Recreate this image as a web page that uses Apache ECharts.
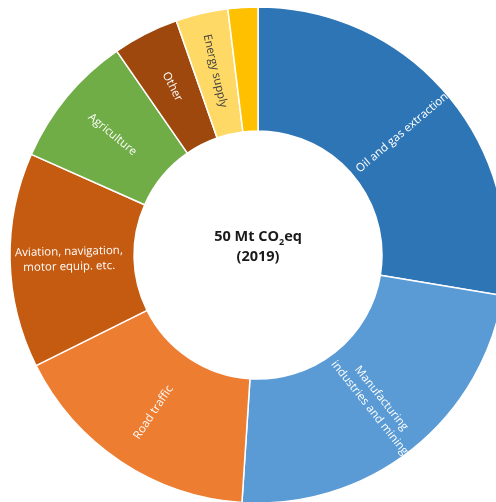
<!DOCTYPE html>
<html>
<head>
<meta charset="utf-8">
<script src="https://cdn.jsdelivr.net/npm/echarts@6/dist/echarts.min.js"></script>
<style>
  html, body { margin: 0; padding: 0; background: #ffffff; }
  #chart { width: 496px; height: 502px; }
</style>
</head>
<body>
<div id="chart"></div>
<script>
// Greenhouse gas emissions by source, Mt CO2-equivalents, 2019
const sectors = [
  'Oil and gas extraction',
  'Manufacturing\nindustries and mining',
  'Road traffic',
  'Aviation, navigation,\nmotor equip. etc.',
  'Agriculture',
  'Other',
  'Energy supply',
  'Heating of buildings'
];
const emissions = [13.8, 11.7, 8.3, 7.0, 4.35, 2.15, 1.7, 0.97];
const sectorColors = ['#2E75B6', '#5B9BD5', '#ED7D31', '#C55A11', '#70AD47', '#9E480E', '#FFD966', '#FFC000'];
const labelColors = ['#ffffff', '#ffffff', '#ffffff', '#ffffff', '#ffffff', '#ffffff', '#404040', '#ffffff'];
const showLabel = [true, true, true, true, true, true, true, false];

const chart = echarts.init(document.getElementById('chart'), null, { renderer: 'canvas' });

const pieData = sectors.map((name, i) => ({
  name: name,
  value: emissions[i],
  itemStyle: { color: sectorColors[i] },
  label: { show: showLabel[i], color: labelColors[i] }
}));

chart.setOption({
  animation: false,
  backgroundColor: '#ffffff',
  series: [{
    type: 'pie',
    center: [258, 255],
    radius: [124, 248],
    startAngle: 90,
    clockwise: true,
    avoidLabelOverlap: false,
    silent: true,
    itemStyle: { borderColor: '#ffffff', borderWidth: 1.5 },
    label: {
      position: 'inside',
      rotate: 'radial',
      formatter: '{b}',
      fontFamily: 'Open Sans',
      fontSize: 11.5,
      lineHeight: 15,
      align: 'center'
    },
    labelLine: { show: false },
    emphasis: { disabled: true },
    data: pieData
  }],
  graphic: [{
    type: 'text',
    x: 258,
    y: 247,
    style: {
      x: 0,
      y: 0,
      text: '{b|50 Mt CO}{s|2}{b|eq}\n{b|(2019)}',
      align: 'center',
      verticalAlign: 'middle',
      rich: {
        b: { fontFamily: 'Open Sans', fontWeight: 'bold', fontSize: 14.5, lineHeight: 20, fill: '#1a1a1a' },
        s: { fontFamily: 'Open Sans', fontWeight: 'bold', fontSize: 9, lineHeight: 14, verticalAlign: 'bottom', fill: '#1a1a1a' }
      }
    }
  }]
});
</script>
</body>
</html>
